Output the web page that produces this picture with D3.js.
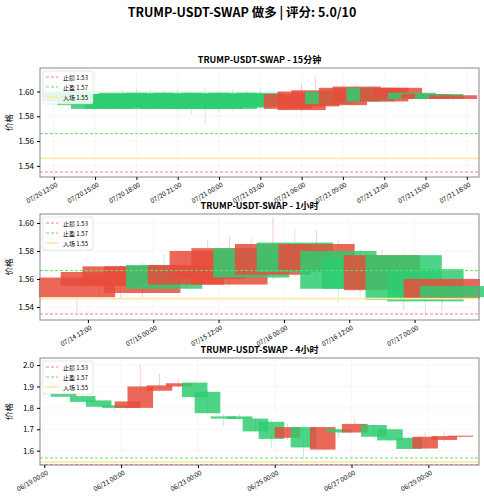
<!DOCTYPE html><html><head><meta charset="utf-8"><script src="https://cdn.jsdelivr.net/npm/d3@7"></script>
<style>body{margin:0;background:#fff}text{font-family:"Noto Sans CJK SC","DejaVu Sans",sans-serif}</style></head><body><svg id="c" width="484" height="500"></svg>
<script>
const mainTitle="TRUMP-USDT-SWAP 做多 | 评分: 5.0/10";
const stopLoss=1.535, takeProfit=1.566, entry=1.546;
const legendLabels=["止损 1.53","止盈 1.57","入场 1.55"];
// [time, open, high, low, close]
const data15m=[
["2024-07-20T13:00",1.600,1.602,1.590,1.592],["2024-07-20T14:00",1.598,1.600,1.588,1.589],
["2024-07-20T15:00",1.596,1.599,1.585,1.586],["2024-07-20T16:00",1.598,1.600,1.585,1.586],
["2024-07-20T17:00",1.599,1.601,1.585,1.587],["2024-07-20T18:00",1.598,1.602,1.585,1.586],
["2024-07-20T19:00",1.599,1.601,1.585,1.587],["2024-07-20T20:00",1.598,1.600,1.585,1.586],
["2024-07-20T21:00",1.599,1.602,1.584,1.586],["2024-07-20T22:00",1.598,1.600,1.582,1.586],
["2024-07-20T23:00",1.599,1.603,1.574,1.586],["2024-07-21T00:00",1.598,1.600,1.583,1.586],
["2024-07-21T01:00",1.599,1.602,1.584,1.586],["2024-07-21T02:00",1.598,1.601,1.585,1.587],
["2024-07-21T03:00",1.599,1.602,1.585,1.588],["2024-07-21T04:00",1.596,1.600,1.585,1.588],
["2024-07-21T05:00",1.586,1.600,1.585,1.598],["2024-07-21T06:00",1.585,1.606,1.584,1.600],
["2024-07-21T07:00",1.588,1.612,1.587,1.601],["2024-07-21T08:00",1.600,1.603,1.589,1.590],
["2024-07-21T09:00",1.589,1.604,1.588,1.603],["2024-07-21T10:00",1.592,1.605,1.590,1.604],
["2024-07-21T11:00",1.603,1.605,1.591,1.592],["2024-07-21T12:00",1.592,1.604,1.591,1.603],
["2024-07-21T13:00",1.595,1.604,1.594,1.603],["2024-07-21T14:00",1.599,1.600,1.593,1.594],
["2024-07-21T15:00",1.594,1.599,1.593,1.598],["2024-07-21T16:00",1.598,1.599,1.593,1.594],
["2024-07-21T17:00",1.594,1.597,1.593,1.597]];
const data1h=[
["2024-07-14T10:00",1.547,1.562,1.536,1.561],["2024-07-14T14:00",1.555,1.567,1.546,1.565],
["2024-07-14T18:00",1.556,1.570,1.547,1.569],["2024-07-14T22:00",1.550,1.572,1.547,1.569],
["2024-07-15T02:00",1.570,1.578,1.552,1.553],["2024-07-15T06:00",1.556,1.575,1.553,1.570],
["2024-07-15T10:00",1.560,1.588,1.558,1.580],["2024-07-15T14:00",1.556,1.590,1.555,1.582],
["2024-07-15T18:00",1.582,1.590,1.558,1.561],["2024-07-15T22:00",1.563,1.604,1.560,1.585],
["2024-07-16T02:00",1.586,1.596,1.562,1.565],["2024-07-16T06:00",1.566,1.595,1.560,1.585],
["2024-07-16T10:00",1.580,1.588,1.543,1.553],["2024-07-16T14:00",1.575,1.581,1.547,1.553],
["2024-07-16T18:00",1.552,1.581,1.545,1.577],["2024-07-16T22:00",1.577,1.578,1.538,1.545],
["2024-07-17T02:00",1.567,1.570,1.533,1.544],["2024-07-17T05:00",1.546,1.562,1.537,1.560],
["2024-07-17T08:00",1.555,1.556,1.545,1.547]];
const data4h=[
["2024-06-19T12:00",1.870,1.880,1.850,1.852],["2024-06-20T00:00",1.855,1.860,1.825,1.828],
["2024-06-20T10:00",1.835,1.840,1.800,1.805],["2024-06-20T20:00",1.812,1.815,1.775,1.800],
["2024-06-21T04:00",1.800,1.815,1.795,1.830],["2024-06-21T12:00",1.800,2.005,1.795,1.900],
["2024-06-22T00:00",1.880,1.960,1.875,1.905],["2024-06-22T12:00",1.900,1.935,1.890,1.915],
["2024-06-22T22:00",1.918,1.925,1.840,1.850],["2024-06-23T06:00",1.875,1.880,1.770,1.775],
["2024-06-23T16:00",1.760,1.770,1.715,1.750],["2024-06-24T02:00",1.760,1.770,1.740,1.748],
["2024-06-24T12:00",1.750,1.755,1.685,1.690],["2024-06-24T22:00",1.735,1.740,1.615,1.655],
["2024-06-25T08:00",1.660,1.725,1.650,1.710],["2024-06-25T18:00",1.710,1.715,1.560,1.615],
["2024-06-26T06:00",1.605,1.715,1.600,1.710],["2024-06-26T16:00",1.700,1.710,1.660,1.685],
["2024-06-27T02:00",1.685,1.750,1.680,1.725],["2024-06-27T14:00",1.720,1.730,1.660,1.665],
["2024-06-28T00:00",1.700,1.705,1.640,1.648],["2024-06-28T12:00",1.660,1.665,1.600,1.608],
["2024-06-28T22:00",1.610,1.685,1.605,1.665],["2024-06-29T10:00",1.650,1.690,1.640,1.668],
["2024-06-29T20:00",1.665,1.672,1.660,1.670]];
const panels=[
 {title:"TRUMP-USDT-SWAP - 15分钟",data:data15m,w:3.5,top:68,bottom:177,x0:"2024-07-20T11:00",x1:"2024-07-21T18:53",y0:1.531,y1:1.619,yt:[1.54,1.56,1.58,1.60],xt:d3.timeHour.every(3),fmt:"%m/%d %H:%M",tf:d3.format(".2f")},
 {title:"TRUMP-USDT-SWAP - 1小时",data:data1h,w:14,top:214,bottom:320,x0:"2024-07-14T03:12",x1:"2024-07-17T11:50",y0:1.5307,y1:1.6064,yt:[1.54,1.56,1.58,1.60],xt:d3.timeHour.every(12),fmt:"%m/%d %H:%M",tf:d3.format(".2f")},
 {title:"TRUMP-USDT-SWAP - 4小时",data:data4h,w:16,top:358,bottom:465,x0:"2024-06-18T21:20",x1:"2024-06-30T07:40",y0:1.533,y1:2.033,yt:[1.6,1.7,1.8,1.9,2.0],xt:d3.timeDay.every(2),fmt:"%m/%d %H:%M",tf:d3.format(".1f")}];
const svg=d3.select("#c");
svg.append("text").attr("x",242).attr("y",17).attr("text-anchor","middle").attr("font-size",12.5).attr("font-weight","bold").text(mainTitle);
const L=40,R=479,parse=d3.timeParse("%Y-%m-%dT%H:%M");
const red="#e74c3c",green="#2ecc71";
panels.forEach(p=>{
 const x=d3.scaleTime().domain([parse(p.x0),parse(p.x1)]).range([L,R]);
 const y=d3.scaleLinear().domain([p.y0,p.y1]).range([p.bottom,p.top]);
 const g=svg.append("g");
 g.append("text").attr("x",(L+R)/2).attr("y",p.top-5).attr("text-anchor","middle").attr("font-size",9).attr("font-weight","bold").text(p.title);
 const xa=d3.axisBottom(x).ticks(p.xt).tickFormat(d3.timeFormat(p.fmt)).tickSize(3);
 const ya=d3.axisLeft(y).tickValues(p.yt).tickFormat(p.tf).tickSize(3);
 g.append("g").selectAll("line").data(x.ticks(p.xt)).join("line").attr("x1",x).attr("x2",x).attr("y1",p.top).attr("y2",p.bottom).attr("stroke","#ddd").attr("stroke-width",0.5).attr("stroke-dasharray","1,1");
 g.append("g").selectAll("line").data(p.yt).join("line").attr("x1",L).attr("x2",R).attr("y1",y).attr("y2",y).attr("stroke","#ddd").attr("stroke-width",0.5).attr("stroke-dasharray","1,1");
 const hw=p.w*3600000/2;
 p.data.forEach(d=>{
  const t=parse(d[0]),[o,h,l,c]=d.slice(1),col=c>=o?red:green;
  g.append("line").attr("x1",x(t)).attr("x2",x(t)).attr("y1",y(h)).attr("y2",y(l)).attr("stroke",col).attr("stroke-opacity",0.35).attr("stroke-width",0.8);
  g.append("rect").attr("x",x(new Date(+t-hw))).attr("width",x(new Date(+t+hw))-x(new Date(+t-hw))).attr("y",y(Math.max(o,c))).attr("height",Math.max(1,Math.abs(y(o)-y(c)))).attr("fill",col).attr("fill-opacity",0.85);
 });
 const lines=[[stopLoss,"#ff8080","3,2",1],[takeProfit,"#66dd66","3,2",1],[entry,"#ffe9a8",null,1.8]];
 lines.forEach(([v,c,da,sw])=>g.append("line").attr("x1",L).attr("x2",R).attr("y1",y(v)).attr("y2",y(v)).attr("stroke",c).attr("stroke-width",sw).attr("stroke-dasharray",da));
 g.append("rect").attr("x",L).attr("y",p.top).attr("width",R-L).attr("height",p.bottom-p.top).attr("fill","none").attr("stroke","#888").attr("stroke-width",1);
 const gx=g.append("g").attr("transform",`translate(0,${p.bottom})`).call(xa);
 gx.selectAll("text").attr("font-size",6.5).attr("text-anchor","end").attr("transform","rotate(-30)").attr("dx","-0.2em").attr("dy","0.6em");
 const gy=g.append("g").attr("transform",`translate(${L},0)`).call(ya);
 gy.selectAll("text").attr("font-size",8);
 [gx,gy].forEach(a=>a.select(".domain").remove());
 g.append("text").attr("transform",`translate(12,${(p.top+p.bottom)/2}) rotate(-90)`).attr("text-anchor","middle").attr("font-size",8.5).text("价格");
 const lg=g.append("g").attr("transform",`translate(${L+3},${p.top+3})`);
 lg.append("rect").attr("width",50).attr("height",33).attr("fill","#fff").attr("fill-opacity",0.85).attr("stroke","#ccc").attr("stroke-width",0.5).attr("rx",2);
 lines.forEach(([v,c,da,sw],i)=>{
  lg.append("line").attr("x1",3).attr("x2",15).attr("y1",6+i*10).attr("y2",6+i*10).attr("stroke",c).attr("stroke-width",sw).attr("stroke-dasharray",da);
  lg.append("text").attr("x",20).attr("y",8.5+i*10).attr("font-size",6).text(legendLabels[i]);
 });
});
</script></body></html>
